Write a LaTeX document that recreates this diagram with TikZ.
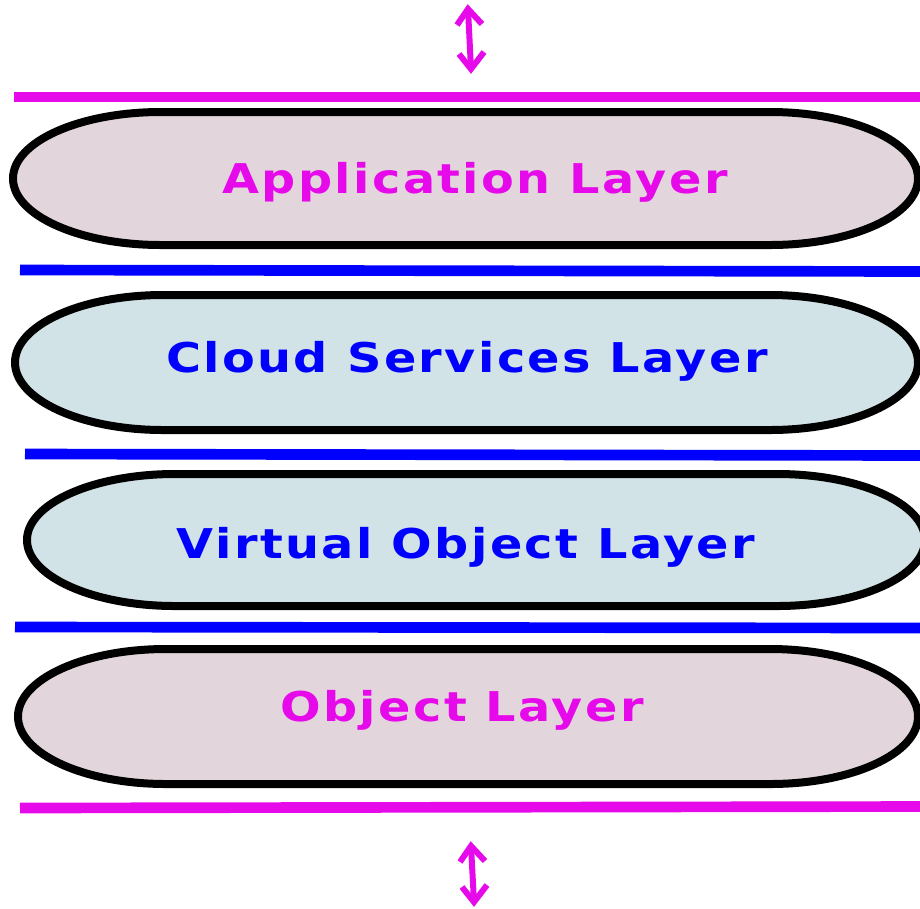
\documentclass[tikz,border=0pt]{standalone}
\usepackage{fontspec}
\setmainfont{DejaVu Sans}
\newfontfamily\layerfont[LetterSpace=5]{DejaVu Sans Bold}

\definecolor{mag}{RGB}{230,10,235}
\definecolor{pinkfill}{RGB}{226,214,220}
\definecolor{bluefill}{RGB}{210,227,232}

\tikzset{every picture/.style={line width=0.75pt}}
\tikzset{
  layer/.style={draw=black, line width=6},
  sepline/.style={line width=8},
  lbl/.style={font=\layerfont\fontsize{30.75}{36}\selectfont, inner sep=0, xscale=1.165, anchor=base},
  io/.style={mag, line width=4.5}
}

\begin{document}
\begin{tikzpicture}[x=0.75pt,y=0.75pt,yscale=-1,xscale=1]
\useasboundingbox (0,0) rectangle (920,908);

%Arrows
\coordinate (topA) at (468,9);
\coordinate (topB) at (471,69);
\draw [io] (topA) -- (topB) ;
\draw [io] (topA) ++(-11,16) -- (topA) -- ++(14,15) ;
\draw [io] (topB) ++(-12,-15) -- (topB) -- ++(13,-17) ;
\coordinate (botA) at (471,846);
\coordinate (botB) at (474,902);
\draw [io] (botA) -- (botB) ;
\draw [io] (botA) ++(-11,16) -- (botA) -- ++(14,15) ;
\draw [io] (botB) ++(-12,-15) -- (botB) -- ++(13,-17) ;

%Straight Lines
\coordinate (s1a) at (14,97);  \coordinate (s1b) at (920,97);
\draw [sepline, mag] (s1a) -- (s1b) ;
\coordinate (s2a) at (20,270); \coordinate (s2b) at (920,271.5);
\draw [sepline, blue] (s2a) -- (s2b) ;
\coordinate (s3a) at (25,454); \coordinate (s3b) at (920,455.5);
\draw [sepline, blue] (s3a) -- (s3b) ;
\coordinate (s4a) at (15,627); \coordinate (s4b) at (920,628);
\draw [sepline, blue] (s4a) -- (s4b) ;
\coordinate (s5a) at (20,808); \coordinate (s5b) at (920,806.5);
\draw [sepline, mag] (s5a) -- (s5b) ;

%Rounded Rect
\draw [layer, fill=pinkfill] (161,112) -- (770,112) arc[start angle=-90, end angle=90, x radius=148, y radius=66.5] -- (161,245) arc[start angle=90, end angle=270, x radius=148, y radius=66.5] -- cycle ;
\draw [layer, fill=bluefill] (163,295) -- (770,295) arc[start angle=-90, end angle=90, x radius=148, y radius=67.5] -- (163,430) arc[start angle=90, end angle=270, x radius=148, y radius=67.5] -- cycle ;
\draw [layer, fill=bluefill] (175,474) -- (777,474) arc[start angle=-90, end angle=90, x radius=148, y radius=66] -- (175,606) arc[start angle=90, end angle=270, x radius=148, y radius=66] -- cycle ;
\draw [layer, fill=pinkfill] (166,649) -- (770,649) arc[start angle=-90, end angle=90, x radius=148, y radius=67.5] -- (166,784) arc[start angle=90, end angle=270, x radius=148, y radius=67.5] -- cycle ;

%Labels
\node [lbl, text=mag] (app) at (475,193) {Application Layer};
\node [lbl, text=blue] (cloud) at (467,372) {Cloud Services Layer};
\node [lbl, text=blue] (virt) at (466,558) {Virtual Object Layer};
\node [lbl, text=mag] (obj) at (462,721) {Object Layer};

\end{tikzpicture}
\end{document}
